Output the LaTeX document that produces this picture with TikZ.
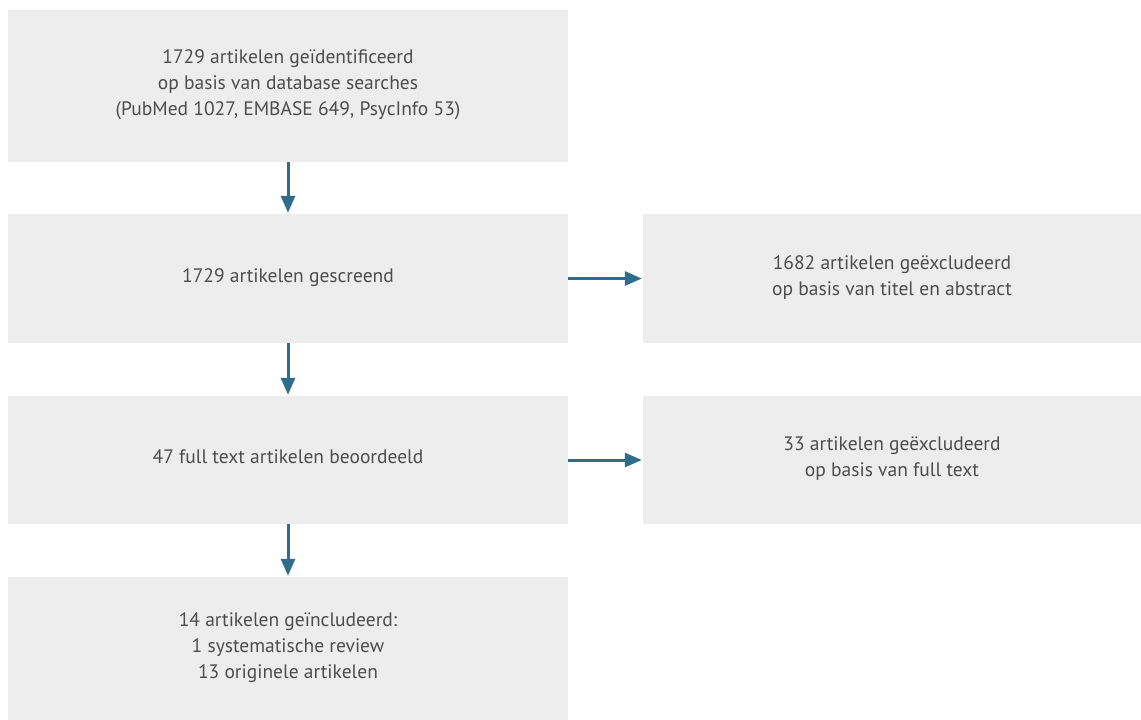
\documentclass[tikz,border=0pt]{standalone}
\usepackage{fontspec}
\setmainfont{PT Sans}
\usetikzlibrary{arrows.meta}
\definecolor{boxfill}{HTML}{EDEDED}
\definecolor{txt}{HTML}{4D4D4D}
\definecolor{arr}{HTML}{2E6E8A}
\tikzset{
  box/.style={fill=boxfill, draw=none, text=txt, align=center, font=\fontsize{19.5}{26}\selectfont, inner sep=0pt},
  conn/.style={draw=arr, line width=3pt, -{Triangle[length=17pt,width=14pt]}, shorten >=1pt}
}
\begin{document}
\begin{tikzpicture}[x=1pt,y=-1pt]
\useasboundingbox (0,0) rectangle (1141,720);
\node[box, minimum width=560pt, minimum height=152pt] (b1) at (288,86) {1729 artikelen geïdentificeerd\\op basis van database searches\\(PubMed 1027, EMBASE 649, PsycInfo 53)\\[-20pt]};
\node[box, minimum width=560pt, minimum height=129pt] (b2) at (288,278.5) {1729 artikelen gescreend\\[-20pt]};
\node[box, minimum width=560pt, minimum height=128pt] (b3) at (288,460) {47 full text artikelen beoordeeld\\[-20pt]};
\node[box, minimum width=560pt, minimum height=143pt] (b4) at (288,648.5) {14 artikelen geïncludeerd:\\1 systematische review\\13 originele artikelen\\[-20pt]};
\node[box, minimum width=498pt, minimum height=129pt] (r1) at (892,278.5) {1682 artikelen geëxcludeerd\\op basis van titel en abstract\\[-20pt]};
\node[box, minimum width=498pt, minimum height=128pt] (r2) at (892,460) {33 artikelen geëxcludeerd\\op basis van full text\\[-20pt]};
\draw[conn] (b1) -- (b2);
\draw[conn] (b2) -- (b3);
\draw[conn] (b3) -- (b4);
\draw[conn] (b2) -- (r1);
\draw[conn] (b3) -- (r2);
\end{tikzpicture}
\end{document}
